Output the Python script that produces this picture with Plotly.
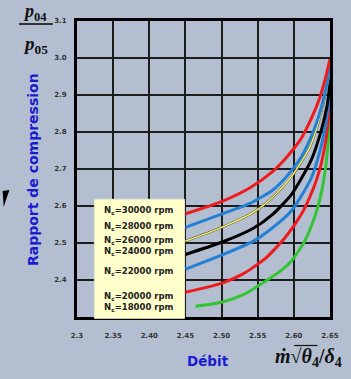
import plotly.graph_objects as go

# ---------------- data ----------------
x_ticks = [2.30, 2.35, 2.40, 2.45, 2.50, 2.55, 2.60, 2.65]
x_tick_text = ["2.3", "2.35", "2.40", "2.45", "2.50", "2.55", "2.60", "2.65"]
y_ticks = [2.4, 2.5, 2.6, 2.7, 2.8, 2.9, 3.0, 3.1]
y_tick_text = ["2.4", "2.5", "2.6", "2.7", "2.8", "2.9", "3.0", "3.1"]

speeds = ["30000", "28000", "26000", "24000", "22000", "20000", "18000"]

x_30000 = [2.450, 2.500, 2.540, 2.570, 2.590, 2.610, 2.625, 2.635, 2.643, 2.650]
y_30000 = [2.579, 2.612, 2.650, 2.692, 2.732, 2.782, 2.840, 2.888, 2.940, 2.997]

x_28000 = [2.450, 2.500, 2.540, 2.570, 2.590, 2.610, 2.625, 2.635, 2.643, 2.6500, 2.6510]
y_28000 = [2.542, 2.578, 2.608, 2.642, 2.680, 2.732, 2.792, 2.846, 2.905, 2.975, 2.986]

x_26000 = [2.450, 2.500, 2.544, 2.571, 2.597, 2.622, 2.635, 2.643, 2.6480, 2.6505]
y_26000 = [2.505, 2.542, 2.583, 2.624, 2.680, 2.759, 2.832, 2.896, 2.945, 2.978]

x_24000 = [2.450, 2.500, 2.544, 2.571, 2.597, 2.624, 2.638, 2.6460, 2.6495, 2.6508]
y_24000 = [2.469, 2.502, 2.540, 2.578, 2.632, 2.724, 2.805, 2.872, 2.926, 2.967]

x_22000 = [2.450, 2.500, 2.544, 2.571, 2.597, 2.624, 2.638, 2.6460, 2.6498, 2.6515]
y_22000 = [2.429, 2.467, 2.505, 2.542, 2.588, 2.675, 2.764, 2.845, 2.913, 2.978]

x_20000 = [2.450, 2.500, 2.531, 2.561, 2.588, 2.611, 2.622, 2.631, 2.638, 2.643, 2.6470, 2.6496, 2.6509, 2.6516]
y_20000 = [2.367, 2.391, 2.418, 2.459, 2.515, 2.580, 2.624, 2.669, 2.715, 2.764, 2.818, 2.886, 2.940, 2.972]

x_18000 = [2.464, 2.500, 2.531, 2.557, 2.584, 2.597, 2.615, 2.625, 2.634, 2.640, 2.6440, 2.6470, 2.6490, 2.6510, 2.6520]
y_18000 = [2.329, 2.340, 2.361, 2.392, 2.428, 2.452, 2.505, 2.550, 2.603, 2.655, 2.705, 2.760, 2.815, 2.905, 2.975]

# ---------------- styles ----------------
BG = "#b3bfd1"
RED = "#ee1c1c"
BLUE = "#2480d4"
GREEN = "#33c433"
BLUE_TXT = "#1a1ad0"
SANS = "DejaVu Sans"
SERIF = "Liberation Serif, DejaVu Serif"

L, R, T, B = 77, 12, 21, 62
W, H = 351, 379
PW, PH = W - L - R, H - T - B


def px(xp):
    return (xp - L) / PW


def py(yp):
    return (H - B - yp) / PH


fig = go.Figure()


def add_curve(xs, ys, color, width):
    fig.add_trace(go.Scatter(x=xs, y=ys, mode="lines",
                             line=dict(color=color, width=width, shape="spline", smoothing=0.6),
                             hoverinfo="skip", showlegend=False))


add_curve(x_18000, y_18000, GREEN, 3)
add_curve(x_20000, y_20000, RED, 3)
add_curve(x_22000, y_22000, BLUE, 3)
add_curve(x_24000, y_24000, "#000000", 3)
add_curve(x_26000, y_26000, "#6e6a40", 2.4)
add_curve(x_26000, y_26000, "#ffff70", 1.2)
add_curve(x_28000, y_28000, BLUE, 3)
add_curve(x_30000, y_30000, RED, 3)

fig.update_layout(
    width=W, height=H,
    margin=dict(l=L, r=R, t=T, b=B),
    paper_bgcolor=BG, plot_bgcolor=BG,
    showlegend=False,
)
fig.update_xaxes(range=[2.30, 2.65], tickvals=x_ticks, ticktext=x_tick_text,
                 showgrid=True, gridcolor="#1c1c1c", gridwidth=1.6,
                 showline=True, linecolor="#000000", linewidth=3, mirror=True,
                 ticks="", ticklabelstandoff=10, zeroline=False,
                 tickfont=dict(family=SANS, size=7, color="#333333", weight="bold"))
fig.update_yaxes(range=[2.30, 3.10], tickvals=y_ticks, ticktext=y_tick_text,
                 showgrid=True, gridcolor="#1c1c1c", gridwidth=1.6,
                 showline=True, linecolor="#000000", linewidth=3, mirror=True,
                 ticks="", ticklabelstandoff=6, zeroline=False,
                 tickfont=dict(family=SANS, size=7, color="#333333", weight="bold"))

# legend box
fig.add_shape(type="rect", xref="paper", yref="paper",
              x0=px(95), x1=px(188.3), y0=py(318.3), y1=py(199.3),
              fillcolor="#ffffcc", line=dict(color="#e6e6c8", width=1), layer="above")

legend_y = [210, 226.7, 240, 251.7, 271, 296, 307.3]
for s, yy in zip(speeds, legend_y):
    fig.add_annotation(xref="paper", yref="paper", x=px(103), y=py(yy), xanchor="left", yanchor="middle",
                       text="N<sub>c</sub>=" + s + " rpm", showarrow=False,
                       font=dict(family=SANS, size=8.5, color="#222222", weight="bold"))

# axis titles
fig.add_annotation(xref="paper", yref="paper", x=px(31), y=py(169.5), textangle=-90,
                   xanchor="center", yanchor="middle",
                   text="Rapport de compression", showarrow=False,
                   font=dict(family=SANS, size=14, color=BLUE_TXT, weight="bold"))
fig.add_annotation(xref="paper", yref="paper", x=px(212.5), y=py(361),
                   xanchor="center", yanchor="middle",
                   text="Débit", showarrow=False,
                   font=dict(family=SANS, size=13.5, color=BLUE_TXT, weight="bold"))

# p04 / p05 fraction
fig.add_annotation(xref="paper", yref="paper", x=px(20), y=py(24.5), xanchor="left", yanchor="bottom",
                   text="<i>p</i><sub>04</sub>", showarrow=False, borderpad=0,
                   font=dict(family=SERIF, size=18, color="#111111", weight="bold"))
fig.add_annotation(xref="paper", yref="paper", x=px(20), y=py(32), xanchor="left", yanchor="top",
                   text="<i>p</i><sub>05</sub>", showarrow=False, borderpad=0,
                   font=dict(family=SERIF, size=19, color="#111111", weight="bold"))
fig.add_shape(type="line", xref="paper", yref="paper", x0=px(17), x1=px(52), y0=py(24), y1=py(24),
              line=dict(color="#333333", width=2))

# m_dot sqrt(theta4)/delta4
fig.add_annotation(xref="paper", yref="paper", x=px(280), y=py(357), xanchor="left", yanchor="middle",
                   text="<i>ṁ</i>√<i>θ</i><sub>4</sub>/<i>δ</i><sub>4</sub>", showarrow=False,
                   font=dict(family=SERIF, size=20, color="#111111", weight="bold"))
fig.add_shape(type="line", xref="paper", yref="paper", x0=px(302), x1=px(326), y0=py(345.5), y1=py(345.5),
              line=dict(color="#111111", width=1.2))

# partial dark mark at left edge
fig.add_shape(type="path", xref="paper", yref="paper",
              path=f"M {px(0)},{py(191)} L {px(7)},{py(190)} L {px(1)},{py(207)} Z",
              fillcolor="#000000", line=dict(width=0))

fig.write_html("out.html")
